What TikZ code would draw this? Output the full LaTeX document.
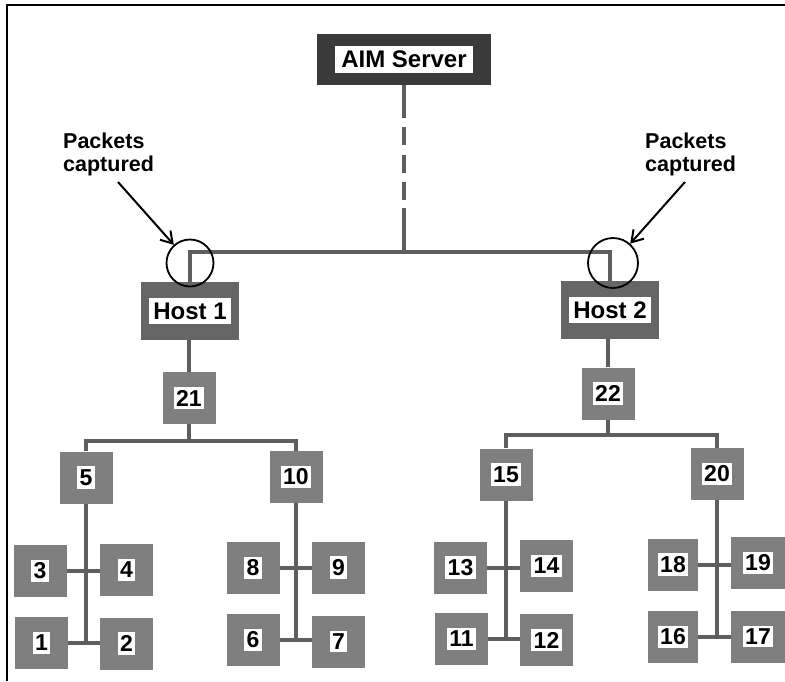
\documentclass[tikz,border=0pt]{standalone}
\usepackage{fontspec}
\setmainfont{Liberation Sans}
\usetikzlibrary{arrows.meta}
\definecolor{aimgrey}{HTML}{3A3A3A}
\definecolor{hostgrey}{HTML}{666666}
\definecolor{boxgrey}{HTML}{7F7F7F}
\definecolor{linegrey}{HTML}{5E5E5E}
\tikzset{
  sbox/.style={rectangle, fill=boxgrey, minimum width=53pt, minimum height=52pt, inner sep=0pt,
    label={[fill=white, inner xsep=2.5pt, inner ysep=3pt, font=\fontsize{23}{26}\bfseries\selectfont]center:#1}},
  hbox/.style={rectangle, fill=hostgrey, minimum width=98pt, minimum height=58pt, inner sep=0pt,
    label={[fill=white, inner xsep=4pt, inner ysep=4.5pt, font=\fontsize{24}{27}\bfseries\selectfont]center:#1}},
  abox/.style={rectangle, fill=aimgrey, minimum width=174pt, minimum height=51pt, inner sep=0pt,
    label={[fill=white, inner xsep=6pt, inner ysep=5pt, font=\fontsize{24}{27}\bfseries\selectfont]center:#1}},
  wire/.style={draw=linegrey, line width=4pt, line join=miter},
  capring/.style={circle, draw=black, line width=1.8pt, inner sep=0pt},
  callout/.style={draw=black, line width=2pt, -{Straight Barb[length=11pt, width=14pt, line width=2pt]}},
  ctext/.style={align=left, inner sep=0pt, font=\fontsize{21.5}{23}\bfseries\selectfont}
}
\begin{document}
\begin{tikzpicture}[x=1pt, y=-1pt]
\useasboundingbox (0,0) rectangle (785,681);
% frame
\coordinate (f0) at (7,5);
\coordinate (f1) at (785,5);
\coordinate (f2) at (7,681);
\draw[line width=2pt] (f1) -- (f0) -- (f2);

% nodes
\node[abox={AIM Server}] (aim) at (404,59.5) {};
\node[hbox={Host 1}] (h1) at (190,311) {};
\node[hbox={Host 2}] (h2) at (610,310) {};
\node[sbox=21] (n21) at (189,398) {};
\node[sbox=22] (n22) at (608,393.5) {};
\node[sbox=5] (n5) at (86,477.5) {};
\node[sbox=10] (n10) at (296,477) {};
\node[sbox=15] (n15) at (506,474.5) {};
\node[sbox=20] (n20) at (717,474) {};
\node[sbox=3] (n3) at (40,571) {};
\node[sbox=4] (n4) at (126.5,570) {};
\node[sbox=1] (n1) at (41.5,643) {};
\node[sbox=2] (n2) at (126.5,643.5) {};
\node[sbox=8] (n8) at (253,568) {};
\node[sbox=9] (n9) at (338.5,567.5) {};
\node[sbox=6] (n6) at (253,640) {};
\node[sbox=7] (n7) at (338.5,641.5) {};
\node[sbox=13] (n13) at (460.5,567.5) {};
\node[sbox=14] (n14) at (546.5,566) {};
\node[sbox=11] (n11) at (461.5,639) {};
\node[sbox=12] (n12) at (546.5,640) {};
\node[sbox=18, minimum width=50pt] (n18) at (673,564.5) {};
\node[sbox=19, minimum width=54pt] (n19) at (758,563) {};
\node[sbox=16, minimum width=50pt] (n16) at (673,637) {};
\node[sbox=17, minimum width=54pt] (n17) at (758,636.5) {};

% top bus
\coordinate (bus) at (404,252);
\draw[wire, dash pattern=on 33pt off 9pt on 18pt off 10pt on 18pt off 9pt on 18pt off 8pt on 60pt off 0pt] (aim.south) -- (bus);
\draw[wire] (h1.north) |- (bus) -| (h2.north);

% host to first level
\draw[wire] (n21.north) -- (n21.north |- h1.south);
\draw[wire] (n22.north) -- (n22.north |- h2.south);

% second-level buses
\coordinate (b1) at (189,441);
\draw[wire] (n21.south) -- (b1);
\draw[wire] (n5.north) |- (b1) -| (n10.north);
\coordinate (b2) at (608,435);
\draw[wire] (n22.south) -- (b2);
\draw[wire] (n15.north) |- (b2) -| (n20.north);

% spines and bars
\draw[wire] (n5.south) -- (n5.south |- n1.east);
\draw[wire] (n3.east) -- (n3.east -| n4.west);
\draw[wire] (n1.east) -- (n1.east -| n2.west);
\draw[wire] (n10.south) -- (n10.south |- n6.east);
\draw[wire] (n8.east) -- (n8.east -| n9.west);
\draw[wire] (n6.east) -- (n6.east -| n7.west);
\draw[wire] (n15.south) -- (n15.south |- n11.east);
\draw[wire] (n13.east) -- (n13.east -| n14.west);
\draw[wire] (n11.east) -- (n11.east -| n12.west);
\draw[wire] (n20.south) -- (n20.south |- n16.east);
\draw[wire] (n18.east) -- (n18.east -| n19.west);
\draw[wire] (n16.east) -- (n16.east -| n17.west);

% capture rings and callouts
\node[capring, minimum size=47pt] (c1) at (190,263) {};
\node[capring, minimum size=50pt] (c2) at (613,263) {};
\node[ctext, anchor=north west] (t1) at (63,133) {Packets\\captured};
\node[ctext, anchor=north west] (t2) at (645,133) {Packets\\captured};
\coordinate (a1) at (118,182);
\coordinate (a2) at (685,182);
\draw[callout] (a1) -- (c1);
\draw[callout] (a2) -- (c2);
\end{tikzpicture}
\end{document}
